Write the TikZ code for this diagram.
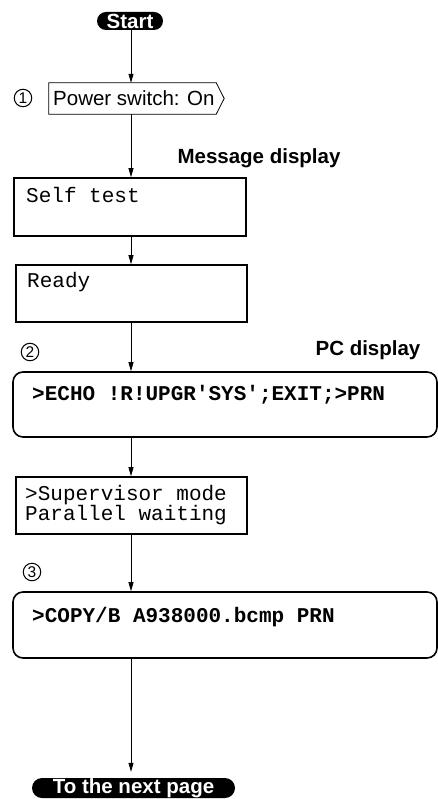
\documentclass[tikz,border=0pt]{standalone}
\usepackage{fontspec}
\setmainfont{Liberation Sans}
\newfontfamily\monof{Liberation Mono}[Ligatures=TeXOff]
\usetikzlibrary{arrows.meta,shapes.misc}
\begin{document}
\begin{tikzpicture}[x=1pt,y=-1pt,
  sansf/.style={font=\fontsize{20.5}{24}\selectfont},
  lab/.style={font=\fontsize{20.5}{24}\selectfont\bfseries, inner sep=0},
  pill/.style={rounded rectangle, fill=black, text=white, inner sep=0,
    font=\fontsize{20.5}{24}\selectfont\bfseries},
  mbox/.style={draw, line width=1.6pt, inner sep=0},
  rbox/.style={draw, line width=1.6pt, rounded corners=10pt, inner sep=0},
  mtxt/.style={font=\fontsize{21}{20}\selectfont\monof, inner sep=0, anchor=west, align=left},
  btxt/.style={font=\fontsize{21}{20}\selectfont\monof\bfseries, inner sep=0, anchor=west},
  num/.style={circle, draw, line width=1pt, minimum size=17.5pt, inner sep=0,
    font=\fontsize{15.5}{15.5}\selectfont},
  arr/.style={line width=0.8pt, -{Triangle[length=9pt,width=5pt]}}
]
\useasboundingbox (0,0) rectangle (438,799);
\coordinate (ax) at (131,0);

% Start
\node[pill, minimum width=66pt, minimum height=18pt] (start) at (130,21) {Start};

% Power switch
\node[num] (n1) at (23,98) {1};
\node[inner sep=0, minimum width=167pt, minimum height=31pt] (pw) at (132.5,98.5) {};
\draw[line width=0.8pt] (pw.north west) -- (pw.north east) -- ([xshift=8pt]pw.east)
  -- (pw.south east) -- (pw.south west) -- cycle;
\node[sansf, inner sep=0, anchor=west] (pwt) at (53,98.5) {Power switch: On};

% Message display
\node[lab] (mdisp) at (259,158) {Message display};

\node[mbox, minimum width=232pt, minimum height=58pt] (st) at (130,207) {};
\node[mtxt] (stt) at (26,195) {Self test};

\node[mbox, minimum width=231pt, minimum height=57pt] (rd) at (131.5,293.5) {};
\node[mtxt] (rdt) at (27,282) {Ready};

% PC display
\node[num] (n2) at (30,352) {2};
\node[lab] (pcdisp) at (368,350) {PC display};

\node[rbox, minimum width=424pt, minimum height=65pt] (pc) at (225,404.5) {};
\node[btxt] (pct) at (32,395) {>ECHO !R!UPGR'SYS';EXIT;>PRN};

\node[mbox, minimum width=231pt, minimum height=57pt] (sup) at (131.5,505.5) {};
\node[mtxt] (supt) at (25,505) {>Supervisor mode\\Parallel waiting};

\node[num] (n3) at (32,572) {3};
\node[rbox, minimum width=424pt, minimum height=66pt] (cp) at (225,625) {};
\node[btxt] (cpt) at (32,617) {>COPY/B A938000.bcmp PRN};

% Next page
\node[pill, minimum width=203pt, minimum height=20pt] (nxt) at (133.5,788) {To the next page};

% connectors
\draw[arr] (start.south -| ax) -- (pw.north -| ax);
\draw[arr] (pw.south -| ax) -- (st.north -| ax);
\draw[arr] (st.south -| ax) -- (rd.north -| ax);
\draw[arr] (rd.south -| ax) -- (pc.north -| ax);
\draw[arr] (pc.south -| ax) -- (sup.north -| ax);
\draw[arr] (sup.south -| ax) -- (cp.north -| ax);
\draw[arr, shorten >=6pt] (cp.south -| ax) -- (nxt.north -| ax);
\end{tikzpicture}
\end{document}
